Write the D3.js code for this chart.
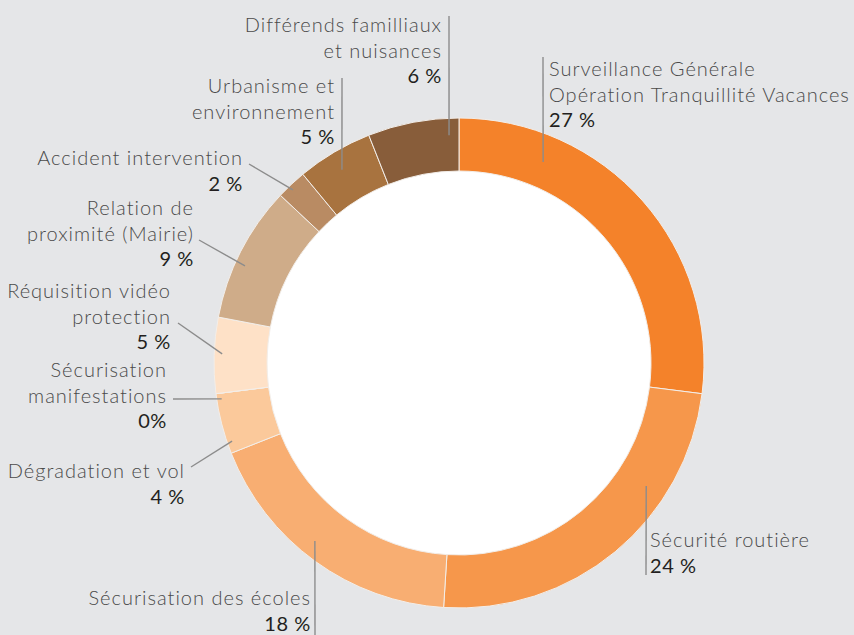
<!DOCTYPE html>
<html>
<head>
<meta charset="utf-8">
<script src="https://cdn.jsdelivr.net/npm/d3@7"></script>
<style>
  html, body { margin: 0; padding: 0; background: #e5e6e8; }
  svg { display: block; }
  .lab { font-family: Lato, "Open Sans", sans-serif; font-weight: 300; fill: #4a4a4a; font-size: 20px; letter-spacing: 1px; }
  .pct { font-family: Lato, "Open Sans", sans-serif; font-weight: 400; fill: #231f20; font-size: 20px; letter-spacing: 0.6px; }
</style>
</head>
<body>
<div id="chart"></div>
<script>
// data (clockwise from 12 o'clock)
var categories = [
  ["Surveillance Générale", "Opération Tranquillité Vacances"],
  ["Sécurité routière"],
  ["Sécurisation des écoles"],
  ["Dégradation et vol"],
  ["Sécurisation", "manifestations"],
  ["Réquisition vidéo", "protection"],
  ["Relation de", "proximité (Mairie)"],
  ["Accident intervention"],
  ["Urbanisme et", "environnement"],
  ["Différends familliaux", "et nuisances"]
];
var values = [27, 24, 18, 4, 0, 5, 9, 2, 5, 6];
var pctLabels = ["27 %", "24 %", "18 %", "4 %", "0%", "5 %", "9 %", "2 %", "5 %", "6 %"];
var colors = ["#f4822a", "#f6974b", "#f8ae72", "#fbc99b", "#fcd5b0", "#fee1c7",
              "#cfac89", "#b98b63", "#a8733f", "#885d3a"];

var svgWidth = 854, svgHeight = 635;
var cx = 459, cy = 363;
var outerR = 245, innerR = 192;

// label layout: anchor x, first baseline y, text-anchor, leader [x1,y1] -> inner end (angle deg, radius)
var layout = [
  {x: 549, y: 76,  anchor: "start", lead: [543, 57],  angle: 22.7,  r: 218},
  {x: 650, y: 547, anchor: "start", lead: [646, 575], angle: 123.3, r: 224},
  {x: 311, y: 605, anchor: "end",   lead: [315, 635], angle: 219.0, r: 229},
  {x: 185, y: 478, anchor: "end",   lead: [191, 467], angle: 251.0, r: 240},
  {x: 167, y: 377, anchor: "end",   lead: [173, 399], angle: 261.4, r: 240},
  {x: 171, y: 298, anchor: "end",   lead: [178, 323], angle: 272.2, r: 237},
  {x: 194, y: 215, anchor: "end",   lead: [199, 240], angle: 294.4, r: 235},
  {x: 243, y: 165, anchor: "end",   lead: [249, 164], angle: 316.2, r: 240},
  {x: 335, y: 93,  anchor: "end",   lead: [342, 78],  angle: 328.8, r: 226},
  {x: 442, y: 32,  anchor: "end",   lead: [449, 16],  angle: 357.5, r: 228}
];
var lineH = 25.5;

var svg = d3.select("#chart")
  .append("svg")
    .attr("width", svgWidth)
    .attr("height", svgHeight);

var g = svg.append("g")
    .attr("transform", "translate(" + cx + "," + cy + ")");

// white hole
g.append("circle")
  .attr("r", innerR)
  .style("fill", "#ffffff");

var pie = d3.pie().sort(null).value(function(d) { return d; });
var arc = d3.arc().innerRadius(innerR).outerRadius(outerR);

g.selectAll("path.slice")
  .data(pie(values))
  .enter().append("path")
    .attr("class", "slice")
    .attr("d", arc)
    .style("fill", function(d, i) { return colors[i]; })
    .style("stroke", "#f3eee9")
    .style("stroke-width", 1);

// leader lines
function inner(l) {
  var a = l.angle * Math.PI / 180;
  return [cx + l.r * Math.sin(a), cy - l.r * Math.cos(a)];
}

svg.selectAll("line.leader")
  .data(layout)
  .enter().append("line")
    .attr("class", "leader")
    .attr("x1", function(d) { return d.lead[0]; })
    .attr("y1", function(d) { return d.lead[1]; })
    .attr("x2", function(d) { return inner(d)[0]; })
    .attr("y2", function(d) { return inner(d)[1]; })
    .style("stroke", "#8c8c8c")
    .style("stroke-width", 1.4);

// labels
var labels = svg.selectAll("g.label")
  .data(layout)
  .enter().append("g")
    .attr("class", "label");

labels.each(function(d, i) {
  var el = d3.select(this);
  categories[i].forEach(function(t, k) {
    el.append("text")
      .attr("class", "lab")
      .attr("x", d.x)
      .attr("y", d.y + k * lineH)
      .attr("text-anchor", d.anchor)
      .text(t);
  });
  el.append("text")
    .attr("class", "pct")
    .attr("x", d.x)
    .attr("y", d.y + categories[i].length * lineH)
    .attr("text-anchor", d.anchor)
    .text(pctLabels[i]);
});
</script>
</body>
</html>
